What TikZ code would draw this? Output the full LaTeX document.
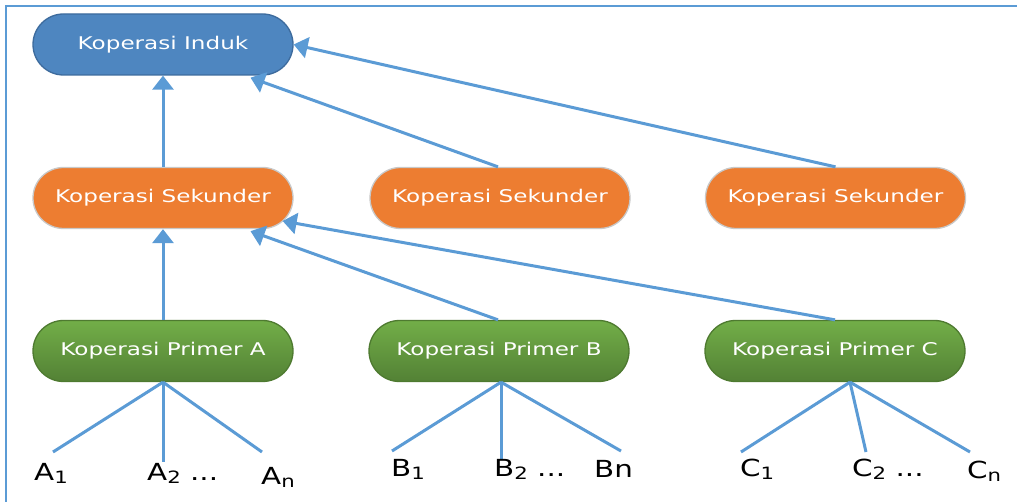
\documentclass[tikz,border=0pt]{standalone}
\usepackage{fontspec}
\setmainfont{DejaVu Sans}[FakeStretch=1.32]
\newfontfamily\labfont{DejaVu Sans}[FakeStretch=1.25]
\usetikzlibrary{arrows.meta,calc,shapes.misc}
\definecolor{lineblue}{HTML}{5B9BD5}
\definecolor{indfill}{HTML}{4E86C0}
\definecolor{inddraw}{HTML}{3D6B9D}
\definecolor{sekfill}{HTML}{ED7D31}
\definecolor{sekdraw}{HTML}{C8C8C8}
\definecolor{primtop}{HTML}{72AE48}
\definecolor{primbot}{HTML}{538135}
\definecolor{primdraw}{HTML}{4E7A30}
\newcommand{\sbx}[1]{\raisebox{-3pt}{\fontsize{17}{17}\selectfont #1}}
\begin{document}
\begin{tikzpicture}[x=1pt,y=-1pt,
  box/.style={rounded rectangle, minimum width=260pt, minimum height=61pt,
    inner sep=0pt, text=white, font=\fontsize{17.5}{17.5}\selectfont, line width=1.3pt},
  induk/.style={fill=indfill, draw=inddraw},
  sek/.style={fill=sekfill, draw=sekdraw},
  prim/.style={top color=primtop, bottom color=primbot, draw=primdraw},
  arr/.style={draw=lineblue, line width=3pt, -{Triangle[width=21pt,length=14pt]}},
  ln/.style={draw=lineblue, line width=3pt},
  frame/.style={draw=lineblue, line width=1.5pt},
  lab/.style={inner sep=0pt, anchor=base west, font=\labfont\fontsize{23.5}{23.5}\selectfont}
]
\useasboundingbox (0,0) rectangle (1017,502);
\draw[frame] (6,502) -- (6,6) -- (1017,6);

\node[box,induk] (ind) at (163,44.5) {Koperasi Induk};
\node[box,sek] (s1) at (163,198) {Koperasi Sekunder};
\node[box,sek] (s2) at (500,198) {Koperasi Sekunder};
\node[box,sek] (s3) at (835.5,198) {Koperasi Sekunder};
\node[box,prim] (pa) at (163,351) {Koperasi Primer A};
\node[box,prim] (pb) at (499,351) {Koperasi Primer B};
\node[box,prim] (pc) at (835,351) {Koperasi Primer C};

\draw[arr] (s1.north) -- (ind.south);
\draw[arr] ([xshift=-2pt]s2.north) -- ($(ind.south east)+(-12,2)$);
\draw[arr] (s3.north) -- (ind.east);
\draw[arr] (pa.north) -- (s1.south);
\draw[arr] ([xshift=-1pt]pb.north) -- ($(s1.south east)+(-12,2)$);
\draw[arr] (pc.north) -- ($(s1.east)+(-11,23)$);

\coordinate (a1e) at (53,452);
\coordinate (a2e) at (163,462);
\coordinate (ane) at (262,452);
\coordinate (b1e) at (392,451);
\coordinate (b2e) at (501,460);
\coordinate (bne) at (621,451);
\coordinate (c1e) at (741,452);
\coordinate (c2e) at (866,452);
\coordinate (cne) at (970,452);

\draw[ln] (pa.south) -- (a1e);
\draw[ln] (pa.south) -- (a2e);
\draw[ln] (pa.south) -- (ane);
\draw[ln] ([xshift=2pt]pb.south) -- (b1e);
\draw[ln] ([xshift=2pt]pb.south) -- (b2e);
\draw[ln] ([xshift=2pt]pb.south) -- (bne);
\draw[ln] ([xshift=15pt]pc.south) -- (c1e);
\draw[ln] ([xshift=15pt]pc.south) -- (c2e);
\draw[ln] ([xshift=15pt]pc.south) -- (cne);

\node[lab] (la1) at (34,480) {A\sbx{1}};
\node[lab] (la2) at (147,480) {A\sbx{2} ...};
\node[lab] (lan) at (261,484) {A\sbx{n}};
\node[lab] (lb1) at (391,476) {B\sbx{1}};
\node[lab] (lb2) at (494,476) {B\sbx{2} ...};
\node[lab] (lbn) at (594,477) {Bn};
\node[lab] (lc1) at (740,476) {C\sbx{1}};
\node[lab] (lc2) at (852,476) {C\sbx{2} ...};
\node[lab] (lcn) at (967,478) {C\sbx{n}};
\end{tikzpicture}
\end{document}
